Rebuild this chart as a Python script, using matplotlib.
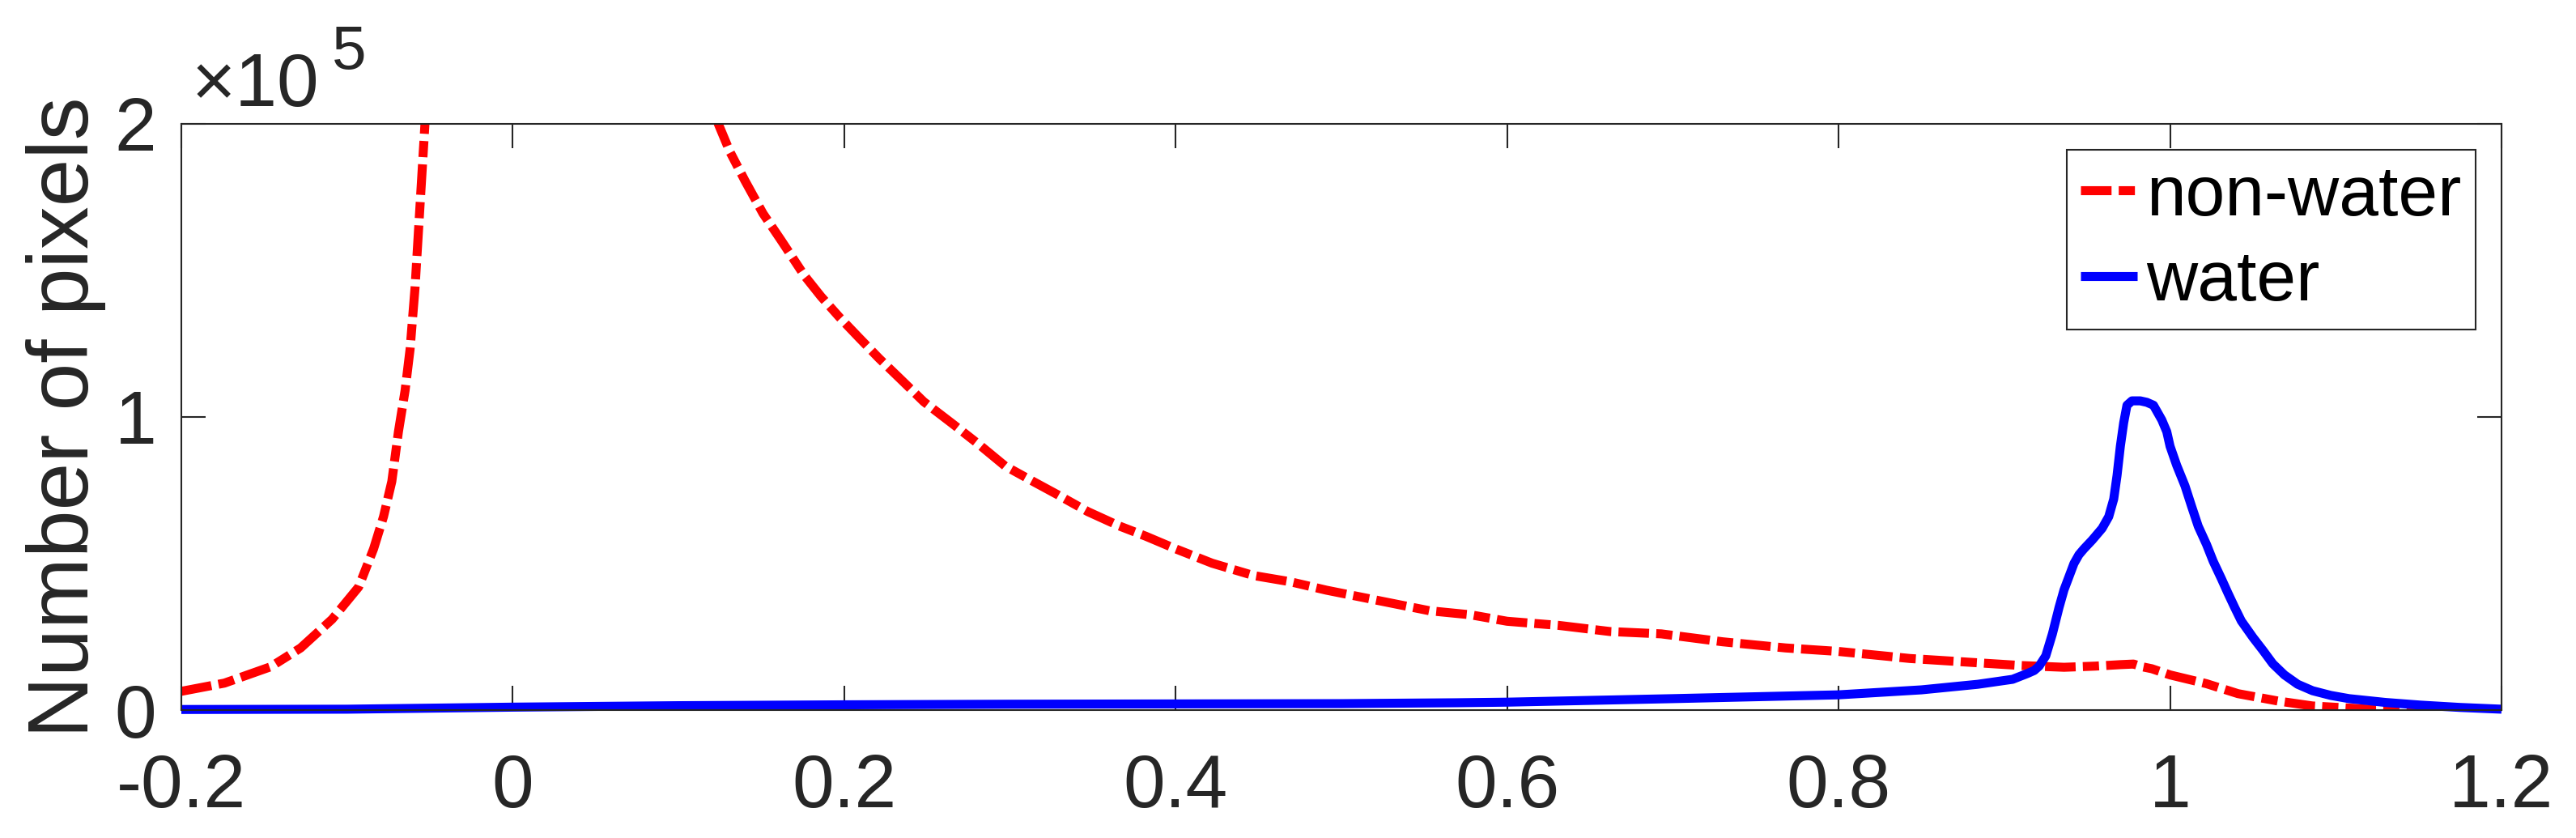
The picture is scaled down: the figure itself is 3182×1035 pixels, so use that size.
import matplotlib
matplotlib.use('Agg')
import matplotlib.pyplot as plt

plt.rcParams['font.family'] = ['Liberation Sans', 'DejaVu Sans']

# non-water histogram (the part above 2e5 is clipped)
x_nonwater = [-0.2, -0.174, -0.146, -0.128, -0.109, -0.093, -0.084, -0.078, -0.073,
              -0.069, -0.065, -0.062, -0.059, -0.056, -0.053, -0.045, -0.03, -0.01,
              0.02, 0.05, 0.08, 0.105, 0.124, 0.131, 0.140, 0.151, 0.162, 0.176,
              0.186, 0.197, 0.209, 0.221, 0.234, 0.248, 0.266, 0.282, 0.297, 0.313,
              0.329, 0.347, 0.366, 0.382, 0.400, 0.422, 0.447, 0.469, 0.491, 0.522,
              0.553, 0.578, 0.600, 0.631, 0.662, 0.693, 0.730, 0.768, 0.800, 0.843,
              0.871, 0.910, 0.936, 0.955, 0.970, 0.978, 0.983, 0.989, 1.000, 1.022,
              1.041, 1.065, 1.086, 1.123, 1.2]
y_nonwater = [6400, 9200, 14800, 21200, 31000, 42000, 55000, 66000, 78000,
              95000, 109000, 123000, 144000, 172000, 200000, 260000, 350000, 430000,
              500000, 450000, 330000, 240000, 200000, 190500, 180700, 169400, 160200, 148200,
              141100, 134100, 127000, 120000, 112900, 105200, 97400, 90300, 83300, 78300,
              73400, 67700, 62800, 59300, 55000, 50100, 45900, 43800, 40900, 37400,
              33900, 32500, 30300, 28900, 26800, 26000, 23300, 21200, 20000, 17600,
              16600, 15200, 14600, 15000, 15500, 15700, 14800, 14100, 12000, 9000,
              5600, 3100, 1400, 200, 0]

# water histogram
x_water = [-0.2, -0.1, 0.0, 0.1, 0.2, 0.3, 0.4, 0.5, 0.57, 0.6, 0.7, 0.8, 0.85,
           0.884, 0.905, 0.914, 0.918, 0.921, 0.925, 0.929, 0.933, 0.936, 0.938,
           0.942, 0.945, 0.948, 0.953, 0.959, 0.963, 0.966, 0.968, 0.970, 0.972,
           0.974, 0.977, 0.982, 0.986, 0.990, 0.993, 0.995, 0.998, 1.000, 1.004,
           1.009, 1.013, 1.017, 1.022, 1.026, 1.031, 1.035, 1.039, 1.043, 1.050,
           1.056, 1.062, 1.069, 1.077, 1.086, 1.097, 1.108, 1.13, 1.151, 1.175, 1.2]
y_water = [200, 300, 1000, 1500, 1800, 2000, 2100, 2200, 2500, 2700, 3900, 5200, 6900,
           8800, 10500, 12500, 13500, 15000, 18500, 26000, 35000, 41000, 44000,
           50000, 53000, 55000, 58000, 62000, 66000, 72000, 80000, 90000, 98000,
           104000, 105500, 105500, 105000, 104000, 101000, 99000, 95000, 90000, 83500,
           76500, 69500, 62700, 56500, 50800, 44800, 39800, 35000, 30400, 24800,
           20400, 15800, 12000, 8800, 6600, 5000, 3900, 2600, 1700, 900, 300]

x_ticks = [-0.2, 0, 0.2, 0.4, 0.6, 0.8, 1.0, 1.2]
x_tick_labels = ['-0.2', '0', '0.2', '0.4', '0.6', '0.8', '1', '1.2']
y_ticks = [0, 1e5, 2e5]
y_tick_labels = ['0', '1', '2']

W, H = 3182, 1035
fig = plt.figure(figsize=(W / 100, H / 100), dpi=100)
ax = fig.add_axes([224 / W, 1 - 877 / H, (3090 - 224) / W, (877 - 153) / H])

dark = '#262626'
ax.plot(x_nonwater, y_nonwater, color='red', linewidth=8,
        linestyle=(0, (3.4, 0.8, 1.8, 0.8)), dash_capstyle='butt', label='non-water')
ax.plot(x_water, y_water, color='blue', linewidth=8, solid_capstyle='butt',
        solid_joinstyle='round', clip_on=False, label='water')

ax.set_xlim(-0.2, 1.2)
ax.set_ylim(0, 2e5)
ax.set_xticks(x_ticks)
ax.set_xticklabels(x_tick_labels)
ax.set_yticks(y_ticks)
ax.set_yticklabels(y_tick_labels)

for s in ax.spines.values():
    s.set_color(dark)
    s.set_linewidth(1.5)
ax.tick_params(axis='both', direction='in', length=21.6, width=1.5, color=dark,
               labelsize=67, labelcolor=dark, top=True, right=True)
ax.tick_params(axis='x', pad=38)
ax.tick_params(axis='y', pad=22)

fig.text(82 / W, 1 - 515 / H, 'Number of pixels', rotation=90, ha='center', va='center',
         fontsize=76, color=dark)

# exponent label like MATLAB
fig.text(237 / W, 1 - 131 / H, '\u00d710', ha='left', va='baseline', fontsize=67, color=dark)
fig.text(410 / W, 1 - 85 / H, '5', ha='left', va='baseline', fontsize=55, color=dark)

leg = ax.legend(loc='upper right', fontsize=63, handlelength=0.8, handletextpad=0.12,
                borderpad=0.2, labelspacing=0.28, borderaxespad=0.37, fancybox=False,
                framealpha=1, edgecolor=dark)
leg.get_frame().set_linewidth(1.5)

fig.savefig('out.png', dpi=100)
